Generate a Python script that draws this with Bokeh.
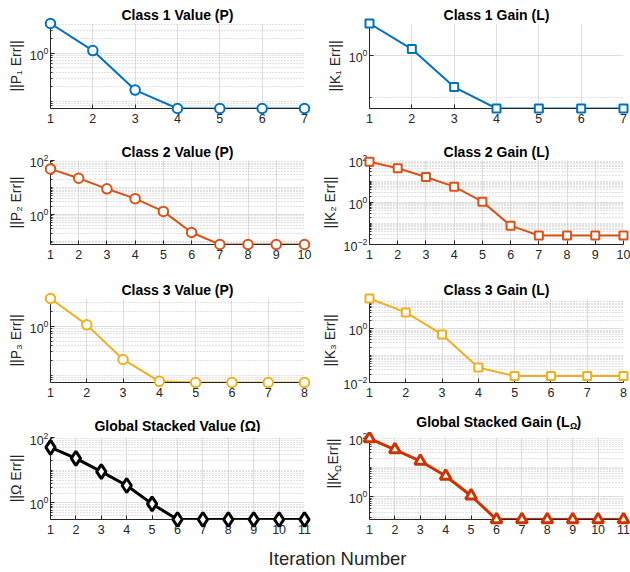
import math
from bokeh.plotting import figure
from bokeh.layouts import column, row
from bokeh.models import FixedTicker, Label, Range1d
from bokeh.embed import file_html
from bokeh.resources import INLINE

FONT = "Liberation Sans"
TXT = "#262626"

# ---------------- data ----------------
p1_iter = [1, 2, 3, 4, 5, 6, 7]
p1_err = [4.2, 1.14, 0.17, 0.07, 0.07, 0.07, 0.07]

k1_iter = [1, 2, 3, 4, 5, 6, 7]
k1_err = [6.1, 1.46, 0.175, 0.053, 0.053, 0.053, 0.053]

p2_iter = [1, 2, 3, 4, 5, 6, 7, 8, 9, 10]
p2_err = [49, 22, 9.0, 3.9, 1.32, 0.22, 0.079, 0.079, 0.079, 0.079]

k2_iter = [1, 2, 3, 4, 5, 6, 7, 8, 9, 10]
k2_err = [88, 43, 16.5, 5.7, 1.1, 0.079, 0.027, 0.027, 0.027, 0.027]

p3_iter = [1, 2, 3, 4, 5, 6, 7, 8]
p3_err = [3.7, 1.07, 0.21, 0.075, 0.071, 0.071, 0.071, 0.071]

k3_iter = [1, 2, 3, 4, 5, 6, 7, 8]
k3_err = [13.5, 4.1, 0.62, 0.036, 0.0175, 0.0175, 0.0175, 0.0175]

omega_iter = [1, 2, 3, 4, 5, 6, 7, 8, 9, 10, 11]
omega_err = [50, 23, 9.0, 3.4, 0.93, 0.31, 0.31, 0.31, 0.31, 0.31, 0.31]

komega_iter = [1, 2, 3, 4, 5, 6, 7, 8, 9, 10, 11]
komega_err = [92, 39, 16, 5.0, 1.08, 0.17, 0.17, 0.17, 0.17, 0.17, 0.17]

titles = ["Class 1 Value (P)", "Class 1 Gain (L)",
          "Class 2 Value (P)", "Class 2 Gain (L)",
          "Class 3 Value (P)", "Class 3 Gain (L)",
          "Global Stacked Value (\u03a9)", "Global Stacked Gain (L"]
ylabels = ["||P\u2081 Err||", "||K\u2081 Err||",
           "||P\u2082 Err||", "||K\u2082 Err||",
           "||P\u2083 Err||", "||K\u2083 Err||",
           "||\u03a9 Err||", None]
ylims = [(0.07, 4.2), (0.053, 6.1),
         (0.079, 100), (0.01, 100),
         (0.071, 3.7), (0.01, 13.5),
         (0.31, 100), (0.17, 100)]
ymajor = [[1], [1], [1, 100], [0.01, 1, 100], [1], [0.01, 1], [1, 100], [1, 100]]

BLUE, ORANGE, YELLOW, BLACK, RED = "#0072BD", "#D95319", "#EDB120", "#000000", "#CC3300"
series = [(p1_iter, p1_err, BLUE, "circle"), (k1_iter, k1_err, BLUE, "square"),
          (p2_iter, p2_err, ORANGE, "circle"), (k2_iter, k2_err, ORANGE, "square"),
          (p3_iter, p3_err, YELLOW, "circle"), (k3_iter, k3_err, YELLOW, "square"),
          (omega_iter, omega_err, BLACK, "diamond"), (komega_iter, komega_err, RED, "triangle")]

MSIZE = {"circle": 9.5, "square": 8, "diamond": 14, "triangle": 11}

# ---------------- layout constants ----------------
# (fig width, left border, right border) per column
COLS = [(315, 50, 11), (315, 54, 7)]
# (height, top, bottom) per row
ROWS = [(138, 23, 30), (139, 22, 33), (138, 21, 33), (108, 5, 21)]
YLAB_W = 30          # narrow strip holding the composite y label of the last panel
STRIP_H = 17         # strip above the last row holding its titles
LAB_H = 30


def minor_ticks(lo, hi, major):
    out = []
    for d in range(-3, 3):
        for k in range(1, 10):
            v = k * 10.0 ** d
            if lo * 0.999 <= v <= hi * 1.001 and all(abs(v - m) > 1e-12 for m in major):
                out.append(v)
    return out


def blank(w, h):
    f = figure(width=w, height=h, toolbar_location=None, output_backend="svg",
               x_axis_location=None, y_axis_location=None,
               min_border_left=0, min_border_right=0, min_border_top=0, min_border_bottom=0)
    f.outline_line_color = None
    f.grid.visible = False
    return f


def make_panel(i):
    col, rw = i % 2, i // 2
    W, left, right = COLS[col]
    H, top, bottom = ROWS[rw]
    if i == 7:
        W, left = W - YLAB_W, left - YLAB_W
    xs, ys, color, marker = series[i]
    lo, hi = ylims[i]
    p = figure(width=W, height=H, x_range=Range1d(xs[0], xs[-1]), y_range=Range1d(lo, hi),
               y_axis_type="log", toolbar_location=None, output_backend="svg",
               min_border_left=left, min_border_right=right,
               min_border_top=top, min_border_bottom=bottom)
    p.outline_line_color = None
    p.background_fill_color = "white"
    p.border_fill_color = "white"

    xt = FixedTicker(ticks=xs)
    p.xaxis.ticker = xt
    p.xgrid.ticker = xt
    mnr = [0.1] if i == 1 else minor_ticks(lo, hi, ymajor[i])
    yt = FixedTicker(ticks=ymajor[i], minor_ticks=mnr)
    p.yaxis.ticker = yt
    p.ygrid.ticker = yt

    for ax in p.axis:
        ax.axis_line_color = TXT
        ax.axis_line_width = 1
        ax.major_tick_line_color = TXT
        ax.major_tick_in = 4
        ax.major_tick_out = 0
        ax.minor_tick_in = 2
        ax.minor_tick_out = 0
        ax.major_label_text_font = FONT
        ax.major_label_text_font_size = "12.5px"
        ax.major_label_text_color = TXT
    p.xaxis.minor_tick_line_color = None
    p.yaxis.minor_tick_line_color = TXT
    p.xaxis.major_label_standoff = 5
    p.yaxis.major_label_standoff = 2

    if ylabels[i]:
        p.yaxis.axis_label = ylabels[i]
        p.yaxis.axis_label_text_font = FONT
        p.yaxis.axis_label_text_font_size = "14px"
        p.yaxis.axis_label_text_font_style = "normal"
        p.yaxis.axis_label_text_color = TXT
        p.yaxis.axis_label_standoff = 3

    p.xgrid.grid_line_color = "#DEDEDE"
    p.ygrid.grid_line_color = "#DEDEDE"
    p.ygrid.minor_grid_line_color = "#C4C4C4"
    p.ygrid.minor_grid_line_dash = "1 2"

    thick = i >= 6
    lw = 3 if thick else 2
    p.line(xs, ys, line_color=color, line_width=lw)
    p.scatter(xs, ys, marker=marker, size=MSIZE[marker], line_color=color,
              line_width=lw, fill_color="white", level="overlay")

    if rw < 3:
        p.title.text = titles[i]
        p.title.align = "center"
        p.title.text_font = FONT
        p.title.text_font_size = "14px"
        p.title.text_font_style = "bold"
        p.title.text_color = "black"
        p.title.standoff = 2
    return p


panels = [make_panel(i) for i in range(8)]

# titles of the last row (drawn in a strip so the subscript can be placed freely)
strip = blank(COLS[0][0] + COLS[1][0], STRIP_H)
tkw = dict(x_units="screen", y_units="screen", text_font=FONT, text_font_style="bold",
           text_color="black", text_baseline="middle")
fw0 = COLS[0][0] - COLS[0][1] - COLS[0][2]
strip.add_layout(Label(x=COLS[0][1] + fw0 / 2, y=7, text=titles[6], text_align="center",
                       text_font_size="14px", **tkw))
xa = 569
strip.add_layout(Label(x=xa, y=11, text=titles[7], text_align="right",
                       text_font_size="14px", **tkw))
strip.add_layout(Label(x=xa + 0.5, y=7, text="\u03a9", text_align="left",
                       text_font_size="9px", **tkw))
strip.add_layout(Label(x=xa + 7, y=11, text=")", text_align="left",
                       text_font_size="14px", **tkw))

# composite y label ||K_Omega Err|| for the last panel
ylab = blank(YLAB_W, ROWS[3][0])
lkw = dict(x_units="screen", y_units="screen", text_font=FONT, text_color=TXT,
           text_baseline="middle", text_align="left", angle=math.pi / 2)
y0 = 31
ylab.add_layout(Label(x=17, y=y0, text="||K", text_font_size="14px", **lkw))
ylab.add_layout(Label(x=21.5, y=y0 + 16.5, text="\u03a9", text_font_size="9.5px", **lkw))
ylab.add_layout(Label(x=17, y=y0 + 24, text=" Err||", text_font_size="14px", **lkw))

lab = blank(COLS[0][0] + COLS[1][0], LAB_H)
lab.add_layout(Label(x=337, y=12, x_units="screen", y_units="screen", text="Iteration Number",
                     text_align="center", text_baseline="middle", text_font=FONT,
                     text_font_size="18.5px", text_color=TXT))

layout = column(row(panels[0], panels[1]), row(panels[2], panels[3]),
                row(panels[4], panels[5]), strip,
                row(panels[6], ylab, panels[7]), lab)

open("out.html", "w").write(file_html(layout, INLINE))
